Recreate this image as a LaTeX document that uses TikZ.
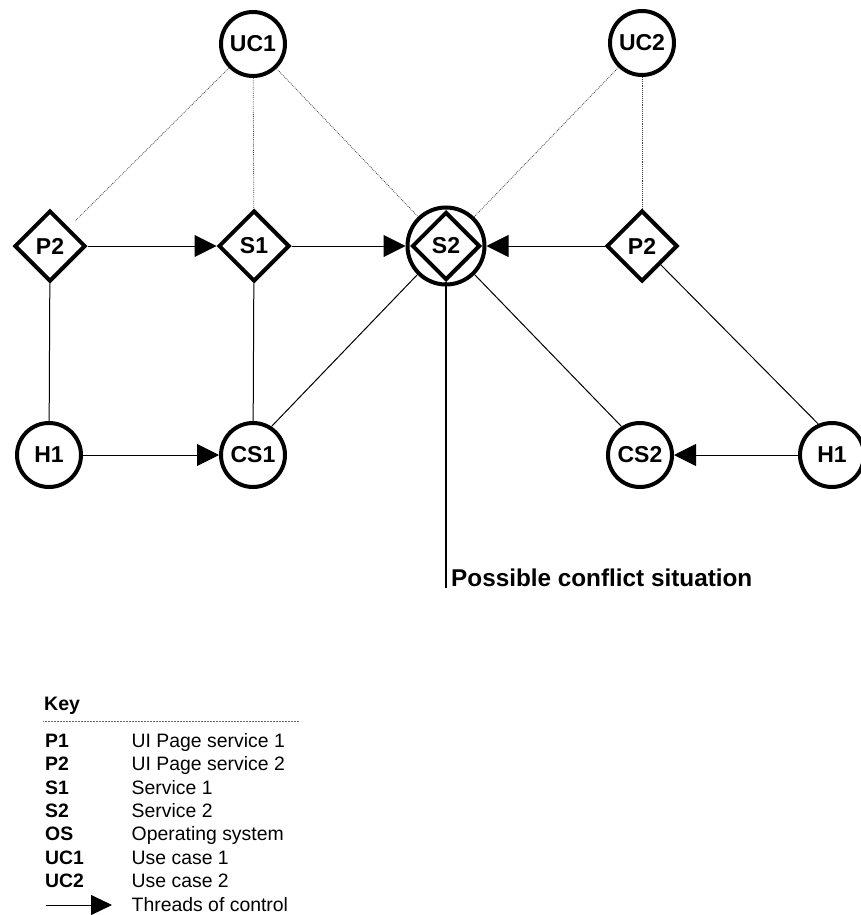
\documentclass[tikz,border=0pt]{standalone}
\usepackage{fontspec}
\setmainfont{Liberation Sans}
\usetikzlibrary{shapes.geometric,arrows.meta}
\tikzset{
  lbl/.style={font=\fontsize{23}{27}\selectfont\bfseries},
  circ/.style={circle, draw, line width=4pt, minimum size=64pt, inner sep=0pt, lbl},
  diam/.style={diamond, draw, line width=4pt, minimum size=71pt, inner sep=0pt, lbl},
  thr/.style={line width=1pt, -{Triangle[length=22pt,width=22pt]}},
  solid1/.style={line width=1pt},
  dots/.style={line width=0.8pt, black!75, dash pattern=on 0.8pt off 1.1pt},
  keyab/.style={anchor=base west, inner sep=0pt, font=\fontsize{19.4}{23}\selectfont\bfseries},
  keytx/.style={anchor=base west, inner sep=0pt, font=\fontsize{19.4}{23}\selectfont},
}
\begin{document}
\begin{tikzpicture}[x=1pt,y=-1pt]
\useasboundingbox (0,0) rectangle (860,915);
% nodes
\node[circ] (UC1) at (253,44) {UC1};
\node[circ] (UC2) at (642,43) {UC2};
\node[diam] (P2L) at (50,246) {P2};
\node[diam] (S1) at (254,246) {S1};
\node[circle, draw, line width=4pt, minimum size=77pt, inner sep=0pt] (S2) at (446,246) {};
\node[diam, minimum size=68pt] (S2d) at (446,246) {S2};
\node[diam] (P2R) at (642,246) {P2};
\node[circ] (H1L) at (49,455) {H1};
\node[circ] (CS1) at (253,455) {CS1};
\node[circ] (CS2) at (640,455) {CS2};
\node[circ] (H1R) at (832,455) {H1};
% dotted use-case links
\draw[dots, shorten >=9pt] (UC1) -- (P2L);
\draw[dots] (UC1) -- (S1);
\draw[dots] (UC1) -- (S2);
\draw[dots] (UC2) -- (S2);
\draw[dots] (UC2) -- (P2R);
% solid links
\draw[solid1] (P2L) -- (H1L);
\draw[solid1] (S1) -- (CS1);
\draw[solid1] (S2.225) -- (CS1.57);
\draw[solid1] (S2.-45) -- (CS2.123);
\draw[solid1] (P2R.south east) -- (H1R.114);
% threads of control
\draw[thr] (P2L) -- (S1);
\draw[thr] (S1) -- (S2);
\draw[thr] (P2R) -- (S2);
\draw[thr] (H1L) -- (CS1);
\draw[thr] (H1R) -- (CS2);
% conflict marker
\coordinate (confEnd) at (446,588);
\draw[line width=2.6pt] (S2d.south) -- (confEnd);
\node[anchor=base west, inner sep=0pt, font=\fontsize{24.3}{28}\selectfont\bfseries] (conf) at (451,586) {Possible conflict situation};
% key
\node[anchor=base west, inner sep=0pt, font=\fontsize{19.5}{23}\selectfont\bfseries] (key) at (44,710) {Key};
\coordinate (kl1) at (43,721);
\coordinate (kl2) at (299,721);
\draw[line width=0.7pt, black!60, dash pattern=on 0.7pt off 0.8pt] (kl1) -- (kl2);
\node[keyab] (a1) at (45,747) {P1};   \node[keytx] (d1) at (131.5,747) {UI Page service 1};
\node[keyab] (a2) at (45,770.5) {P2}; \node[keytx] (d2) at (131.5,770.5) {UI Page service 2};
\node[keyab] (a3) at (45,794) {S1};   \node[keytx] (d3) at (131.5,794) {Service 1};
\node[keyab] (a4) at (45,817) {S2};   \node[keytx] (d4) at (131.5,817) {Service 2};
\node[keyab] (a5) at (45,840.5) {OS}; \node[keytx] (d5) at (131.5,840.5) {Operating system};
\node[keyab] (a6) at (45,864) {UC1};  \node[keytx] (d6) at (131.5,864) {Use case 1};
\node[keyab] (a7) at (45,887) {UC2};  \node[keytx] (d7) at (131.5,887) {Use case 2};
\coordinate (ka) at (46,905);
\coordinate (kb) at (112,905);
\draw[line width=1pt, -{Triangle[length=21pt,width=20pt]}] (ka) -- (kb);
\node[keytx] (d8) at (131.5,911) {Threads of control};
\end{tikzpicture}
\end{document}
